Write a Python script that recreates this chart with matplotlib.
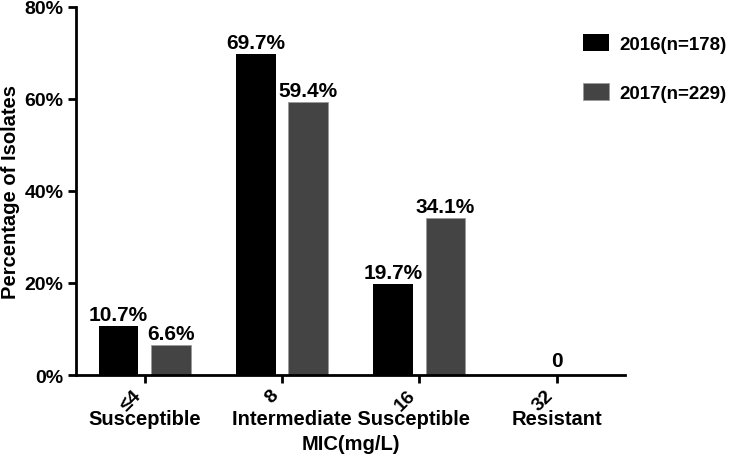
import numpy as np
import matplotlib
matplotlib.use("Agg")
import matplotlib.pyplot as plt
from matplotlib.ticker import FuncFormatter
import matplotlib.transforms as mtransforms

plt.rcParams['font.family'] = ['Liberation Sans', 'DejaVu Sans']
plt.rcParams['font.weight'] = 'bold'

# data
mic_labels = ['≤4', '8', '16', '32']
pct_2016 = [10.7, 69.7, 19.7, 0]
pct_2017 = [6.6, 59.4, 34.1, 0]
series_names = ['2016(n=178)', '2017(n=229)']
categories = ['Susceptible', 'Intermediate Susceptible', 'Resistant']
category_pos = [0, 1.5, 3]

fig = plt.figure(figsize=(7.33, 4.6), dpi=100)
ax = fig.add_axes([0.1037, 0.1826, 0.7494, 0.8004])

x = np.arange(len(mic_labels))
w = 0.29
off = 0.19
b1 = ax.bar(x - off, pct_2016, w, color='#000000', label=series_names[0])
b2 = ax.bar(x + off, pct_2017, w, color='#444444', edgecolor='#9a9a9a',
            linewidth=0.6, label=series_names[1])

# value labels; the resistant group only gets a single "0"
for i in range(3):
    ax.text(x[i] - off, pct_2016[i] + 0.4, f'{pct_2016[i]:.1f}%', ha='center',
            va='bottom', fontsize=15, fontweight='bold')
    ax.text(x[i] + off, pct_2017[i] + 0.4, f'{pct_2017[i]:.1f}%', ha='center',
            va='bottom', fontsize=15, fontweight='bold')
ax.text(x[3], 1.0, '0', ha='center', va='bottom', fontsize=15, fontweight='bold')

ax.set_xlim(-0.5, 3.5)
ax.set_ylim(0, 80)
ax.set_yticks([0, 20, 40, 60, 80])
ax.yaxis.set_major_formatter(FuncFormatter(lambda v, p: f'{v:.0f}%'))
ax.set_xticks(x)
ax.set_xticklabels(mic_labels, rotation=45, ha='right', va='top')

ax.tick_params(axis='both', width=2, length=6, labelsize=14, direction='out')
ax.tick_params(axis='x', pad=2)
ax.tick_params(axis='y', pad=3)
for s in ['top', 'right']:
    ax.spines[s].set_visible(False)
for s in ['left', 'bottom']:
    ax.spines[s].set_linewidth(2)

ax.set_ylabel('Percentage of Isolates', fontsize=14.5, fontweight='bold', labelpad=3)

trans = mtransforms.blended_transform_factory(ax.transData, fig.transFigure)
for c, p in zip(categories, category_pos):
    ax.text(p, 0.087, c, transform=trans, ha='center', va='center',
            fontsize=14.5, fontweight='bold')
ax.text(1.5, 0.033, 'MIC(mg/L)', transform=trans, ha='center', va='center',
        fontsize=14.5, fontweight='bold')

fig.legend(handles=[b1, b2], labels=series_names, loc='upper left',
           bbox_to_anchor=(0.772, 0.96), frameon=False,
           handlelength=1.4, handleheight=1.0, handletextpad=0.55,
           labelspacing=1.6, prop={'weight': 'bold', 'size': 13.5})

fig.savefig('out.png', dpi=100)
